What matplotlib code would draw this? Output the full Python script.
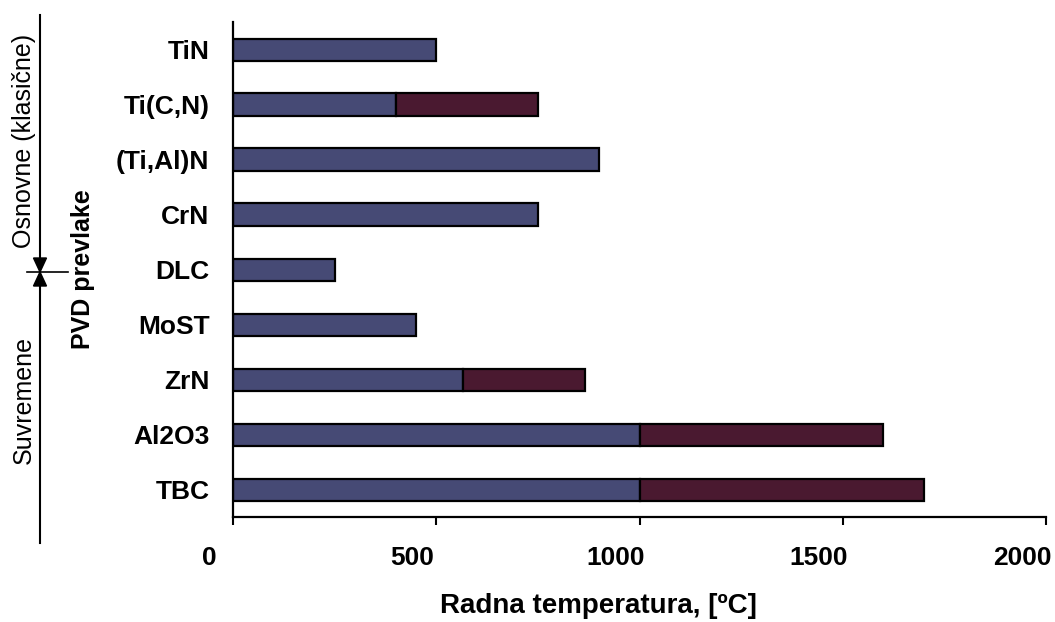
import numpy as np
import matplotlib
matplotlib.use("Agg")
import matplotlib.pyplot as plt
from matplotlib.transforms import ScaledTranslation

plt.rcParams['font.family'] = ['Liberation Sans', 'DejaVu Sans']

# data, bottom -> top
coatings = ['TBC', 'Al2O3', 'ZrN', 'MoST', 'DLC', 'CrN', '(Ti,Al)N', 'Ti(C,N)', 'TiN']
temp_low = [1000, 1000, 565, 450, 250, 750, 900, 400, 500]     # blue part
temp_extra = [700, 600, 300, 0, 0, 0, 0, 350, 0]               # dark part (range up to max)
x_ticks = [0, 500, 1000, 1500, 2000]

blue = '#464a75'
dark = '#4a1930'

W, H = 1055, 622
fig = plt.figure(figsize=(W / 100, H / 100), dpi=100)
ax = fig.add_axes([233 / W, 1 - 517 / H, (1046 - 233) / W, (517 - 22) / H])

y = np.arange(len(coatings))
ax.barh(y, temp_low, height=0.4, color=blue, edgecolor='black', linewidth=1.6)
extra = np.array(temp_extra)
mask = extra > 0
ax.barh(y[mask], extra[mask], left=np.array(temp_low)[mask], height=0.4,
        color=dark, edgecolor='black', linewidth=1.6)

ax.set_xlim(0, 2000)
ax.set_ylim(-0.5, len(coatings) - 0.5)
ax.set_xticks(x_ticks)
ax.set_xticklabels([str(t) for t in x_ticks], fontsize=19, fontweight='bold')
ax.set_yticks(y)
ax.set_yticklabels(coatings, fontsize=19, fontweight='bold')
ax.tick_params(axis='x', direction='out', length=6, width=1.5, pad=15)
ax.tick_params(axis='y', length=0, pad=17)
for s in ['top', 'right']:
    ax.spines[s].set_visible(False)
for s in ['left', 'bottom']:
    ax.spines[s].set_linewidth(1.6)

# tick labels sit a bit left of their ticks in the original
shift = ScaledTranslation(-24 / 100, 0, fig.dpi_scale_trans)
for lab in ax.get_xticklabels():
    lab.set_transform(lab.get_transform() + shift)

# overlay in pixel coordinates for the side annotation
ov = fig.add_axes([0, 0, 1, 1])
ov.set_xlim(0, W)
ov.set_ylim(H, 0)
ov.axis('off')
ov.patch.set_alpha(0)

ov.text(598, 606, 'Radna temperatura, [ºC]', fontsize=20, fontweight='bold',
        ha='center', va='center')

ov.plot([40, 40], [15, 543], color='black', lw=1.5)
ov.plot([27, 68], [272, 272], color='black', lw=1.2)
ov.fill([33.5, 46.5, 40], [258, 258, 272], color='black')
ov.fill([33.5, 46.5, 40], [286, 286, 272], color='black')

ov.text(24, 141, 'Osnovne (klasične)', fontsize=18, rotation=90,
        ha='center', va='center')
ov.text(24, 400, 'Suvremene', fontsize=18, rotation=90,
        ha='center', va='center')
ov.text(83, 269, 'PVD prevlake', fontsize=18, fontweight='bold', rotation=90,
        ha='center', va='center')

fig.savefig('out.png', dpi=100)
